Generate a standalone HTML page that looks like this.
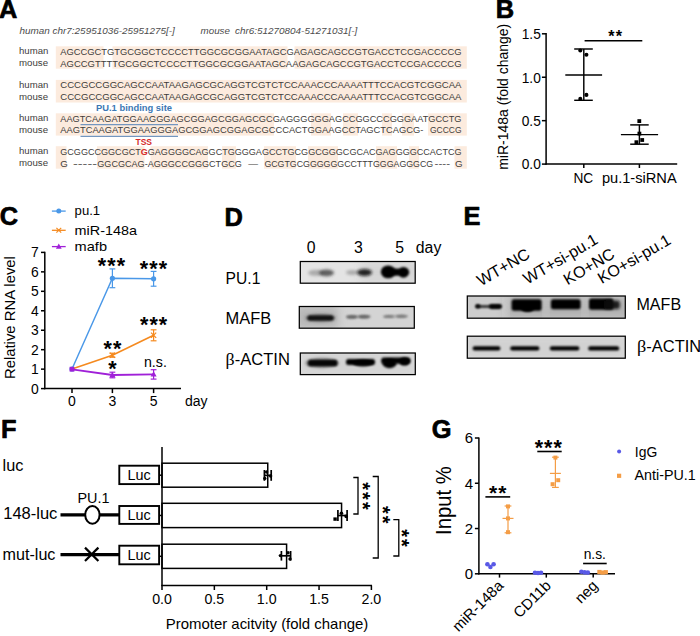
<!DOCTYPE html>
<html><head><meta charset="utf-8"><title>Figure</title>
<style>html,body{margin:0;padding:0;background:#fff;}svg{display:block;font-family:'Liberation Sans', sans-serif;}text{font-family:'Liberation Sans', sans-serif;}</style>
</head><body>
<svg width="700" height="636" viewBox="0 0 700 636">
<rect x="0" y="0" width="700" height="636" fill="#fff"/>
<g id="panelA">
<text x="-0.9" y="17.5" font-size="25.4" font-weight="bold" stroke="#000" stroke-width="0.7" stroke-linejoin="round">A</text>
<text x="19.6" y="33.7" font-size="9.3" fill="#4c4c4c" font-style="italic" textLength="155.2" lengthAdjust="spacingAndGlyphs">human chr7:25951036-25951275[-]</text>
<text x="200.6" y="33.7" font-size="9.3" fill="#4c4c4c" font-style="italic" textLength="29.3" lengthAdjust="spacingAndGlyphs">mouse</text>
<text x="235" y="33.7" font-size="9.3" fill="#4c4c4c" font-style="italic" textLength="122.3" lengthAdjust="spacingAndGlyphs">chr6:51270804-51271031[-]</text>
<rect x="55.8" y="46.300000000000004" width="47.7" height="22.4" fill="#fcebde" stroke="none" stroke-width="1" />
<rect x="112.5" y="46.300000000000004" width="175.0" height="22.4" fill="#fcebde" stroke="none" stroke-width="1" />
<rect x="294.5" y="46.300000000000004" width="172.3" height="22.4" fill="#fcebde" stroke="none" stroke-width="1" />
<rect x="55.8" y="79.89999999999999" width="411.0" height="22.6" fill="#fcebde" stroke="none" stroke-width="1" />
<rect x="55.8" y="113.3" width="218.2" height="22.300000000000004" fill="#fcebde" stroke="none" stroke-width="1" />
<rect x="311" y="113.3" width="20" height="22.300000000000004" fill="#fcebde" stroke="none" stroke-width="1" />
<rect x="343" y="113.3" width="15" height="22.300000000000004" fill="#fcebde" stroke="none" stroke-width="1" />
<rect x="382" y="113.3" width="10" height="22.300000000000004" fill="#fcebde" stroke="none" stroke-width="1" />
<rect x="402" y="113.3" width="12" height="22.300000000000004" fill="#fcebde" stroke="none" stroke-width="1" />
<rect x="428" y="113.3" width="38.80000000000001" height="22.300000000000004" fill="#fcebde" stroke="none" stroke-width="1" />
<rect x="55.8" y="146.2" width="10.700000000000003" height="22.500000000000007" fill="#fcebde" stroke="none" stroke-width="1" />
<rect x="97" y="146.2" width="47.5" height="22.500000000000007" fill="#fcebde" stroke="none" stroke-width="1" />
<rect x="150.5" y="146.2" width="57.5" height="22.500000000000007" fill="#fcebde" stroke="none" stroke-width="1" />
<rect x="222" y="146.2" width="14" height="22.500000000000007" fill="#fcebde" stroke="none" stroke-width="1" />
<rect x="264" y="146.2" width="32" height="22.500000000000007" fill="#fcebde" stroke="none" stroke-width="1" />
<rect x="308" y="146.2" width="30" height="22.500000000000007" fill="#fcebde" stroke="none" stroke-width="1" />
<rect x="376" y="146.2" width="21" height="22.500000000000007" fill="#fcebde" stroke="none" stroke-width="1" />
<rect x="409" y="146.2" width="10" height="22.500000000000007" fill="#fcebde" stroke="none" stroke-width="1" />
<rect x="454.5" y="146.2" width="12.300000000000011" height="22.500000000000007" fill="#fcebde" stroke="none" stroke-width="1" />
<text x="19" y="54.3" font-size="9.6" fill="#403c3a" textLength="29.3" lengthAdjust="spacingAndGlyphs">human</text>
<text x="19" y="66.1" font-size="9.6" fill="#403c3a" textLength="29.0" lengthAdjust="spacingAndGlyphs">mouse</text>
<text x="60.3" y="54.7" font-size="9.7" fill="#403c3a" textLength="401.2" lengthAdjust="spacingAndGlyphs">AGCCGCTGTGCGGCTCCCCTTGGCGCGGAATAGCGAGAGCAGCCGTGACCTCCGACCCCG</text>
<text x="60.3" y="66.5" font-size="9.7" fill="#403c3a" textLength="401.2" lengthAdjust="spacingAndGlyphs">AGCCGTTTTGCGGCTCCCCTTGGCGCGGAATAGCAAGAGCAGCCGTGACCTCCGACCCCG</text>
<text x="19" y="87.9" font-size="9.6" fill="#403c3a" textLength="29.3" lengthAdjust="spacingAndGlyphs">human</text>
<text x="19" y="99.9" font-size="9.6" fill="#403c3a" textLength="29.0" lengthAdjust="spacingAndGlyphs">mouse</text>
<text x="60.3" y="88.3" font-size="9.7" fill="#403c3a" textLength="401.2" lengthAdjust="spacingAndGlyphs">CCCGCCGGCAGCCAATAAGAGCGCAGGTCGTCTCCAAACCCAAAATTTCCACGTCGGCAA</text>
<text x="60.3" y="100.3" font-size="9.7" fill="#403c3a" textLength="401.2" lengthAdjust="spacingAndGlyphs">CCCGCCGGCAGCCAATAAGAGCGCAGGTCGTCTCCAAACCCAAAATTTCCACGTCGGCAA</text>
<text x="19" y="121.3" font-size="9.6" fill="#403c3a" textLength="29.3" lengthAdjust="spacingAndGlyphs">human</text>
<text x="19" y="133.0" font-size="9.6" fill="#403c3a" textLength="29.0" lengthAdjust="spacingAndGlyphs">mouse</text>
<text x="60.3" y="121.7" font-size="9.7" fill="#403c3a" textLength="401.2" lengthAdjust="spacingAndGlyphs">AAGTCAAGATGGAAGGGAGCGGAGCGGAGCGCGAGGGGGGAGCCGGCCCGGGAATGCCTG</text>
<text x="19" y="154.2" font-size="9.6" fill="#403c3a" textLength="29.3" lengthAdjust="spacingAndGlyphs">human</text>
<text x="19" y="166.1" font-size="9.6" fill="#403c3a" textLength="29.0" lengthAdjust="spacingAndGlyphs">mouse</text>
<text x="60.3" y="154.6" font-size="9.7" fill="#403c3a" textLength="401.2" lengthAdjust="spacingAndGlyphs">GCGGCCGGCGCT<tspan fill="#d42a2a" font-weight="bold">G</tspan>GAGGGGCAGGCTGGGGAGCCTGCGGCGGGCGCACGAGGGGCCACTCG</text>
<text x="60.3" y="133.4" font-size="9.7" fill="#403c3a" textLength="363" lengthAdjust="spacingAndGlyphs">AAGTCAAGATGGAAGGGAGCGGAGCGGAGCGCCCACTGGAAGCCTAGCTCAGCG-</text>
<text x="430" y="133.4" font-size="9.7" fill="#403c3a" textLength="31.5" lengthAdjust="spacingAndGlyphs">GCCCG</text>
<text x="60.3" y="166.5" font-size="9.7" fill="#403c3a">G</text>
<text x="73" y="166.5" font-size="9.7" fill="#403c3a" textLength="24" lengthAdjust="spacingAndGlyphs">-----</text>
<text x="97.3" y="166.5" font-size="9.7" fill="#403c3a" textLength="144.5" lengthAdjust="spacingAndGlyphs">GGCGCAG-AGGGCCGGGCTGCG</text>
<text x="248.2" y="166.5" font-size="9.7" fill="#403c3a" textLength="9.8" lengthAdjust="spacingAndGlyphs">—</text>
<text x="264.4" y="166.5" font-size="9.7" fill="#403c3a" textLength="168.8" lengthAdjust="spacingAndGlyphs">GCGTGCGGGGGGCCTTTGGGAGGGCG</text>
<text x="434.6" y="166.5" font-size="9.7" fill="#403c3a" textLength="15.5" lengthAdjust="spacingAndGlyphs">----</text>
<text x="455" y="166.5" font-size="9.7" fill="#403c3a">G</text>
<text x="96" y="111" font-size="9.3" font-weight="bold" fill="#3c78b4" textLength="76" lengthAdjust="spacingAndGlyphs">PU.1 binding site</text>
<line x1="80.5" y1="124.6" x2="178" y2="124.6" stroke="#7396c0" stroke-width="1.2" />
<line x1="80.5" y1="136.3" x2="178" y2="136.3" stroke="#7396c0" stroke-width="1.2" />
<text x="135.5" y="144.5" font-size="9.3" font-weight="bold" fill="#d42a2a" textLength="16.5" lengthAdjust="spacingAndGlyphs">TSS</text>
</g>
<g id="panelB">
<text x="495.7" y="17.5" font-size="25.4" font-weight="bold" stroke="#000" stroke-width="0.7" stroke-linejoin="round">B</text>
<line x1="546.1" y1="33.099999999999994" x2="546.1" y2="164.79999999999998" stroke="#000" stroke-width="1.5" />
<line x1="545.4" y1="164.1" x2="677.2" y2="164.1" stroke="#000" stroke-width="1.5" />
<line x1="541.9" y1="164.1" x2="546.1" y2="164.1" stroke="#000" stroke-width="1.5" />
<text x="540.8" y="169.4" font-size="14.7" text-anchor="end" textLength="19.1" lengthAdjust="spacingAndGlyphs">0.0</text>
<line x1="541.9" y1="120.66666666666666" x2="546.1" y2="120.66666666666666" stroke="#000" stroke-width="1.5" />
<text x="540.8" y="125.96666666666665" font-size="14.7" text-anchor="end" textLength="19.1" lengthAdjust="spacingAndGlyphs">0.5</text>
<line x1="541.9" y1="77.23333333333332" x2="546.1" y2="77.23333333333332" stroke="#000" stroke-width="1.5" />
<text x="540.8" y="82.53333333333332" font-size="14.7" text-anchor="end" textLength="19.1" lengthAdjust="spacingAndGlyphs">1.0</text>
<line x1="541.9" y1="33.79999999999998" x2="546.1" y2="33.79999999999998" stroke="#000" stroke-width="1.5" />
<text x="540.8" y="39.09999999999998" font-size="14.7" text-anchor="end" textLength="19.1" lengthAdjust="spacingAndGlyphs">1.5</text>
<text x="508.2" y="96.8" font-size="14.4" text-anchor="middle" textLength="146" lengthAdjust="spacingAndGlyphs" transform="rotate(-90 508.2 96.8)">miR-148a (fold change)</text>
<line x1="583.8" y1="164.1" x2="583.8" y2="168.0" stroke="#000" stroke-width="1.5" />
<line x1="639.4" y1="164.1" x2="639.4" y2="168.0" stroke="#000" stroke-width="1.5" />
<text x="583.3" y="182.5" font-size="15.0" text-anchor="middle" textLength="19.8" lengthAdjust="spacingAndGlyphs">NC</text>
<text x="639.3" y="182.5" font-size="15.0" text-anchor="middle" textLength="74.8" lengthAdjust="spacingAndGlyphs">pu.1-siRNA</text>
<line x1="583.8" y1="49.0" x2="583.8" y2="100.3" stroke="#000" stroke-width="1.45" />
<line x1="574.2" y1="49.0" x2="592.8" y2="49.0" stroke="#000" stroke-width="1.45" />
<line x1="574.2" y1="100.3" x2="592.8" y2="100.3" stroke="#000" stroke-width="1.45" />
<line x1="565.3" y1="74.9" x2="602.1" y2="74.9" stroke="#000" stroke-width="1.45" />
<circle cx="580.3" cy="50.5" r="2.05" fill="#000" />
<circle cx="586.4" cy="54.8" r="2.05" fill="#000" />
<circle cx="586.4" cy="94.9" r="2.05" fill="#000" />
<circle cx="580.3" cy="98.9" r="2.05" fill="#000" />
<line x1="639.4" y1="124.9" x2="639.4" y2="144.2" stroke="#000" stroke-width="1.45" />
<line x1="630.2" y1="124.9" x2="648.7" y2="124.9" stroke="#000" stroke-width="1.45" />
<line x1="630.2" y1="144.2" x2="648.7" y2="144.2" stroke="#000" stroke-width="1.45" />
<line x1="620.9" y1="134.6" x2="658.1" y2="134.6" stroke="#000" stroke-width="1.45" />
<rect x="637.4" y="119.19999999999999" width="3.8" height="3.8" fill="#000" stroke="none" stroke-width="1" />
<rect x="637.5" y="131.7" width="3.8" height="3.8" fill="#000" stroke="none" stroke-width="1" />
<rect x="640.3000000000001" y="138.1" width="3.8" height="3.8" fill="#000" stroke="none" stroke-width="1" />
<rect x="634.5" y="140.29999999999998" width="3.8" height="3.8" fill="#000" stroke="none" stroke-width="1" />
<line x1="584.6" y1="40.7" x2="642.3" y2="40.7" stroke="#000" stroke-width="1.45" />
<text x="615.85" y="41.76" font-size="16.2" font-weight="bold" text-anchor="middle" letter-spacing="1.3">**</text>
</g>
<g id="panelC">
<text x="-0.2" y="224.5" font-size="25.4" font-weight="bold" stroke="#000" stroke-width="0.7" stroke-linejoin="round">C</text>
<line x1="44.8" y1="251.8" x2="44.8" y2="389.20000000000005" stroke="#000" stroke-width="1.5" />
<line x1="44.199999999999996" y1="388.6" x2="181" y2="388.6" stroke="#000" stroke-width="1.5" />
<line x1="41.0" y1="388.6" x2="44.8" y2="388.6" stroke="#000" stroke-width="1.5" />
<text x="38.7" y="393.55" font-size="13.9" text-anchor="end">0</text>
<line x1="41.0" y1="369.14285714285717" x2="44.8" y2="369.14285714285717" stroke="#000" stroke-width="1.5" />
<text x="38.7" y="374.09285714285716" font-size="13.9" text-anchor="end">1</text>
<line x1="41.0" y1="349.6857142857143" x2="44.8" y2="349.6857142857143" stroke="#000" stroke-width="1.5" />
<text x="38.7" y="354.6357142857143" font-size="13.9" text-anchor="end">2</text>
<line x1="41.0" y1="330.22857142857146" x2="44.8" y2="330.22857142857146" stroke="#000" stroke-width="1.5" />
<text x="38.7" y="335.17857142857144" font-size="13.9" text-anchor="end">3</text>
<line x1="41.0" y1="310.7714285714286" x2="44.8" y2="310.7714285714286" stroke="#000" stroke-width="1.5" />
<text x="38.7" y="315.7214285714286" font-size="13.9" text-anchor="end">4</text>
<line x1="41.0" y1="291.31428571428575" x2="44.8" y2="291.31428571428575" stroke="#000" stroke-width="1.5" />
<text x="38.7" y="296.26428571428573" font-size="13.9" text-anchor="end">5</text>
<line x1="41.0" y1="271.8571428571429" x2="44.8" y2="271.8571428571429" stroke="#000" stroke-width="1.5" />
<text x="38.7" y="276.8071428571429" font-size="13.9" text-anchor="end">6</text>
<line x1="41.0" y1="252.4" x2="44.8" y2="252.4" stroke="#000" stroke-width="1.5" />
<text x="38.7" y="257.35" font-size="13.9" text-anchor="end">7</text>
<text x="14.7" y="317.6" font-size="14.1" text-anchor="middle" textLength="123" lengthAdjust="spacingAndGlyphs" transform="rotate(-90 14.7 317.6)">Relative RNA level</text>
<line x1="72" y1="388.6" x2="72" y2="393.1" stroke="#000" stroke-width="1.5" />
<text x="72" y="406.4" font-size="14.0" text-anchor="middle">0</text>
<line x1="112.4" y1="388.6" x2="112.4" y2="393.1" stroke="#000" stroke-width="1.5" />
<text x="112.4" y="406.4" font-size="14.0" text-anchor="middle">3</text>
<line x1="153.6" y1="388.6" x2="153.6" y2="393.1" stroke="#000" stroke-width="1.5" />
<text x="153.6" y="406.4" font-size="14.0" text-anchor="middle">5</text>
<text x="185" y="406.4" font-size="14.0">day</text>
<polyline points="72,369.0 112.4,278.3 153.6,278.8" fill="none" stroke="#4a98e8" stroke-width="1.45"/>
<line x1="112.4" y1="268.90000000000003" x2="112.4" y2="287.7" stroke="#4a98e8" stroke-width="1.2" />
<line x1="109.5" y1="268.90000000000003" x2="115.30000000000001" y2="268.90000000000003" stroke="#4a98e8" stroke-width="1.2" />
<line x1="109.5" y1="287.7" x2="115.30000000000001" y2="287.7" stroke="#4a98e8" stroke-width="1.2" />
<line x1="153.6" y1="271.40000000000003" x2="153.6" y2="286.2" stroke="#4a98e8" stroke-width="1.2" />
<line x1="150.7" y1="271.40000000000003" x2="156.5" y2="271.40000000000003" stroke="#4a98e8" stroke-width="1.2" />
<line x1="150.7" y1="286.2" x2="156.5" y2="286.2" stroke="#4a98e8" stroke-width="1.2" />
<circle cx="72" cy="369.0" r="2.6" fill="#4a98e8" />
<circle cx="112.4" cy="278.3" r="2.6" fill="#4a98e8" />
<circle cx="153.6" cy="278.8" r="2.6" fill="#4a98e8" />
<polyline points="72,369.0 112.4,355.2 153.6,335.3" fill="none" stroke="#f58a1f" stroke-width="1.6"/>
<line x1="112.4" y1="353.2" x2="112.4" y2="357.2" stroke="#f58a1f" stroke-width="1.2" />
<line x1="109.5" y1="353.2" x2="115.30000000000001" y2="353.2" stroke="#f58a1f" stroke-width="1.2" />
<line x1="109.5" y1="357.2" x2="115.30000000000001" y2="357.2" stroke="#f58a1f" stroke-width="1.2" />
<line x1="153.6" y1="329.8" x2="153.6" y2="340.8" stroke="#f58a1f" stroke-width="1.2" />
<line x1="150.7" y1="329.8" x2="156.5" y2="329.8" stroke="#f58a1f" stroke-width="1.2" />
<line x1="150.7" y1="340.8" x2="156.5" y2="340.8" stroke="#f58a1f" stroke-width="1.2" />
<line x1="109.80000000000001" y1="352.59999999999997" x2="115.0" y2="357.8" stroke="#f58a1f" stroke-width="1.2" />
<line x1="109.80000000000001" y1="357.8" x2="115.0" y2="352.59999999999997" stroke="#f58a1f" stroke-width="1.2" />
<line x1="151.0" y1="332.7" x2="156.2" y2="337.90000000000003" stroke="#f58a1f" stroke-width="1.2" />
<line x1="151.0" y1="337.90000000000003" x2="156.2" y2="332.7" stroke="#f58a1f" stroke-width="1.2" />
<polyline points="72,369.4 112.4,375.0 153.6,374.4" fill="none" stroke="#a020d8" stroke-width="1.9"/>
<line x1="112.4" y1="372.2" x2="112.4" y2="377.8" stroke="#a020d8" stroke-width="1.2" />
<line x1="109.5" y1="372.2" x2="115.30000000000001" y2="372.2" stroke="#a020d8" stroke-width="1.2" />
<line x1="109.5" y1="377.8" x2="115.30000000000001" y2="377.8" stroke="#a020d8" stroke-width="1.2" />
<line x1="153.6" y1="369.7" x2="153.6" y2="379.09999999999997" stroke="#a020d8" stroke-width="1.2" />
<line x1="150.7" y1="369.7" x2="156.5" y2="369.7" stroke="#a020d8" stroke-width="1.2" />
<line x1="150.7" y1="379.09999999999997" x2="156.5" y2="379.09999999999997" stroke="#a020d8" stroke-width="1.2" />
<rect x="69.6" y="366.79999999999995" width="4.8" height="4.8" fill="#a020d8" stroke="none" stroke-width="1" />
<path d="M112.4 371.8L115.4 377.2L109.4 377.2Z" fill="#a020d8"/>
<path d="M153.6 371.2L156.6 376.59999999999997L150.6 376.59999999999997Z" fill="#a020d8"/>
<line x1="51.9" y1="211.1" x2="65.7" y2="211.1" stroke="#4a98e8" stroke-width="1.3" />
<circle cx="58.8" cy="211.1" r="2.5" fill="#4a98e8" />
<text x="74.6" y="215.2" font-size="13.4" textLength="25.5" lengthAdjust="spacingAndGlyphs">pu.1</text>
<line x1="51.9" y1="230.3" x2="65.7" y2="230.3" stroke="#f58a1f" stroke-width="1.3" />
<line x1="56.4" y1="227.9" x2="61.2" y2="232.7" stroke="#f58a1f" stroke-width="1.2" />
<line x1="56.4" y1="232.7" x2="61.2" y2="227.9" stroke="#f58a1f" stroke-width="1.2" />
<text x="74.6" y="235.0" font-size="13.4" textLength="62.4" lengthAdjust="spacingAndGlyphs">miR-148a</text>
<line x1="51.9" y1="246.6" x2="65.7" y2="246.6" stroke="#a020d8" stroke-width="1.3" />
<path d="M58.8 243.6L61.7 248.8L55.9 248.8Z" fill="#a020d8"/>
<text x="74.6" y="251.4" font-size="13.4" textLength="32.4" lengthAdjust="spacingAndGlyphs">mafb</text>
<text x="112.05" y="273.46" font-size="21.5" font-weight="bold" text-anchor="middle" letter-spacing="1.1">***</text>
<text x="154.05" y="275.56" font-size="21.5" font-weight="bold" text-anchor="middle" letter-spacing="1.1">***</text>
<text x="154.15" y="331.56" font-size="21.5" font-weight="bold" text-anchor="middle" letter-spacing="1.1">***</text>
<text x="112.95" y="355.96" font-size="21.5" font-weight="bold" text-anchor="middle" letter-spacing="1.1">**</text>
<text x="112.95" y="375.76" font-size="21.5" font-weight="bold" text-anchor="middle" letter-spacing="1.1">*</text>
<text x="155.4" y="367.0" font-size="14.2" text-anchor="middle">n.s.</text>
</g>
<g id="panelD">
<defs>
<filter id="blur1" x="-50%" y="-100%" width="200%" height="300%"><feGaussianBlur stdDeviation="0.7"/></filter>
<filter id="blur2" x="-50%" y="-100%" width="200%" height="300%"><feGaussianBlur stdDeviation="1.1"/></filter>
<filter id="blur3" x="-50%" y="-100%" width="200%" height="300%"><feGaussianBlur stdDeviation="1.8"/></filter>
<filter id="blur4" x="-50%" y="-100%" width="200%" height="300%"><feGaussianBlur stdDeviation="4.0"/></filter>
</defs>
<text x="224.6" y="225.7" font-size="25.4" font-weight="bold" stroke="#000" stroke-width="0.7" stroke-linejoin="round">D</text>
<text x="311.2" y="253.0" font-size="15.8" text-anchor="middle">0</text>
<text x="358.4" y="253.0" font-size="15.8" text-anchor="middle">3</text>
<text x="399.7" y="253.0" font-size="15.8" text-anchor="middle">5</text>
<text x="415.8" y="253.0" font-size="15.8" textLength="25.5" lengthAdjust="spacingAndGlyphs">day</text>
<text x="225.6" y="283.6" font-size="16.2" textLength="34.8" lengthAdjust="spacingAndGlyphs">PU.1</text>
<text x="225.6" y="324.4" font-size="16.2" textLength="45.6" lengthAdjust="spacingAndGlyphs">MAFB</text>
<text x="225.6" y="365.3" font-size="16.2" textLength="64.3" lengthAdjust="spacingAndGlyphs"><tspan font-family="Liberation Serif" font-size="17.5">β</tspan>-ACTIN</text>
<clipPath id="bc1"><rect x="300.3" y="261.5" width="114.9" height="21.7"/></clipPath>
<g clip-path="url(#bc1)">
<rect x="300.3" y="261.5" width="114.9" height="21.7" fill="#e4e4e4" stroke="none" stroke-width="1" />
<rect x="360" y="261.5" width="60" height="21.7" fill="#bbb" opacity="0.35" filter="url(#blur4)"/>
<ellipse cx="316" cy="272.8" rx="8" ry="3.0" fill="#666" opacity="0.45" filter="url(#blur3)"/>
<ellipse cx="326.5" cy="272.8" rx="7.5" ry="3.4" fill="#333" opacity="0.75" filter="url(#blur3)"/>
<ellipse cx="352" cy="272.5" rx="6" ry="2.6" fill="#666" opacity="0.45" filter="url(#blur3)"/>
<ellipse cx="364.5" cy="272.5" rx="7.5" ry="3.4" fill="#111" opacity="0.9" filter="url(#blur3)"/>
<ellipse cx="388.2" cy="271.9" rx="7.4" ry="6.4" fill="#000" opacity="1" filter="url(#blur2)"/>
<ellipse cx="403.4" cy="272.3" rx="5.8" ry="5.4" fill="#000" opacity="1" filter="url(#blur2)"/>
<ellipse cx="396.0" cy="272.2" rx="6.0" ry="3.6" fill="#000" opacity="1" filter="url(#blur2)"/>
</g>
<rect x="300.3" y="261.5" width="114.9" height="21.7" fill="none" stroke="#000" stroke-width="1.25" />
<clipPath id="bc2"><rect x="299.3" y="306.5" width="115" height="21.7"/></clipPath>
<g clip-path="url(#bc2)">
<rect x="299.3" y="306.5" width="115" height="21.7" fill="#d4d4d4" stroke="none" stroke-width="1" />
<rect x="296" y="306.5" width="42" height="21.7" fill="#999" opacity="0.5" filter="url(#blur4)"/>
<rect x="307.5" y="315.40" width="26.10" height="5.0" rx="2.5" fill="#000" opacity="1" filter="url(#blur2)"/>
<ellipse cx="320.5" cy="317.9" rx="15.0" ry="3.6" fill="#222" opacity="0.5" filter="url(#blur3)"/>
<ellipse cx="351.5" cy="316.9" rx="5.5" ry="1.8" fill="#444" opacity="0.7" filter="url(#blur2)"/>
<ellipse cx="364.5" cy="316.7" rx="6.0" ry="1.9" fill="#444" opacity="0.7" filter="url(#blur2)"/>
<ellipse cx="358" cy="316.8" rx="11" ry="1.3" fill="#555" opacity="0.5" filter="url(#blur2)"/>
<ellipse cx="388.5" cy="316.5" rx="5.5" ry="1.6" fill="#555" opacity="0.6" filter="url(#blur2)"/>
<ellipse cx="402" cy="316.2" rx="6" ry="1.7" fill="#555" opacity="0.6" filter="url(#blur2)"/>
<ellipse cx="395" cy="316.4" rx="11" ry="1.2" fill="#666" opacity="0.45" filter="url(#blur2)"/>
</g>
<rect x="299.3" y="306.5" width="115" height="21.7" fill="none" stroke="#000" stroke-width="1.25" />
<clipPath id="bc3"><rect x="300.3" y="353.0" width="115.0" height="21.6"/></clipPath>
<g clip-path="url(#bc3)">
<rect x="300.3" y="353.0" width="115.0" height="21.6" fill="#dedede" stroke="none" stroke-width="1" />
<rect x="300" y="353.0" width="115" height="21.6" fill="#aaa" opacity="0.2" filter="url(#blur4)"/>
<rect x="308.0" y="359.70" width="29.40" height="6.6" rx="2.5" fill="#000" opacity="1" filter="url(#blur2)"/>
<ellipse cx="322" cy="363.0" rx="16.5" ry="4.4" fill="#111" opacity="0.5" filter="url(#blur3)"/>
<rect x="346.0" y="359.10" width="29.00" height="5.8" rx="2.5" fill="#000" opacity="1" filter="url(#blur2)"/>
<ellipse cx="363" cy="363.2" rx="10" ry="3.4" fill="#000" opacity="0.9" filter="url(#blur2)"/>
<rect x="381.2" y="357.40" width="29.20" height="6.4" rx="2.5" fill="#000" opacity="1" filter="url(#blur2)"/>
<ellipse cx="389.5" cy="363.6" rx="7.0" ry="4.6" fill="#000" opacity="1" filter="url(#blur2)"/>
<ellipse cx="404.5" cy="361.6" rx="5.2" ry="4.0" fill="#000" opacity="1" filter="url(#blur2)"/>
</g>
<rect x="300.3" y="353.0" width="115.0" height="21.6" fill="none" stroke="#000" stroke-width="1.25" />
</g>
<g id="panelE">
<text x="463.6" y="224.8" font-size="25.4" font-weight="bold" stroke="#000" stroke-width="0.7" stroke-linejoin="round">E</text>
<text x="480.9" y="286.5" font-size="16.2" transform="rotate(-30.3 480.9 286.5)">WT+NC</text>
<text x="527.3" y="284.8" font-size="16.2" transform="rotate(-30.3 527.3 284.8)">WT+si-pu.1</text>
<text x="567.4" y="285.4" font-size="16.2" transform="rotate(-30.3 567.4 285.4)">KO+NC</text>
<text x="601.8" y="284.2" font-size="16.2" transform="rotate(-30.3 601.8 284.2)">KO+si-pu.1</text>
<text x="636.5" y="310.0" font-size="15.8" textLength="44.6" lengthAdjust="spacingAndGlyphs">MAFB</text>
<text x="637" y="352.3" font-size="15.8" textLength="64.2" lengthAdjust="spacingAndGlyphs"><tspan font-family="Liberation Serif" font-size="17.5">β</tspan>-ACTIN</text>
<clipPath id="bc4"><rect x="467.3" y="296.0" width="158" height="22.2"/></clipPath>
<g clip-path="url(#bc4)">
<rect x="467.3" y="296.0" width="158" height="22.2" fill="#cdcdcd" stroke="none" stroke-width="1" />
<rect x="505" y="296.0" width="125" height="22.2" fill="#888" opacity="0.4" filter="url(#blur4)"/>
<rect x="504.5" y="296.0" width="3.5" height="22.2" fill="#eee" opacity="0.7" filter="url(#blur4)"/>
<rect x="544.2" y="296.0" width="3.5" height="22.2" fill="#eee" opacity="0.6" filter="url(#blur4)"/>
<rect x="583.0" y="296.0" width="3.5" height="22.2" fill="#eee" opacity="0.5" filter="url(#blur4)"/>
<rect x="475.8" y="305.20" width="25.70" height="2.6" rx="1.3" fill="#000" opacity="0.85" filter="url(#blur2)"/>
<ellipse cx="477.8" cy="306.2" rx="2.6" ry="2.2" fill="#000" opacity="0.9" filter="url(#blur2)"/>
<rect x="489.0" y="304.10" width="12.80" height="4.8" rx="2.4" fill="#000" opacity="0.95" filter="url(#blur2)"/>
<rect x="511.6" y="299.20" width="30.00" height="11.6" rx="2.5" fill="#000" opacity="1" filter="url(#blur2)"/>
<ellipse cx="527.5" cy="308.6" rx="6.5" ry="3.4" fill="#000" opacity="1" filter="url(#blur2)"/>
<rect x="550.9" y="299.20" width="29.70" height="10.0" rx="2.5" fill="#000" opacity="1" filter="url(#blur2)"/>
<rect x="589.0" y="298.60" width="24.40" height="11.2" rx="2.5" fill="#000" opacity="1" filter="url(#blur2)"/>
<rect x="604.0" y="300.50" width="15.80" height="8.6" rx="2.5" fill="#111" opacity="0.9" filter="url(#blur3)"/>
</g>
<rect x="467.3" y="296.0" width="158" height="22.2" fill="none" stroke="#000" stroke-width="1.25" />
<clipPath id="bc5"><rect x="467.3" y="336.2" width="158" height="22.0"/></clipPath>
<g clip-path="url(#bc5)">
<rect x="467.3" y="336.2" width="158" height="22.0" fill="#dadada" stroke="none" stroke-width="1" />
<rect x="467" y="336.2" width="158" height="22.0" fill="#aaa" opacity="0.15" filter="url(#blur4)"/>
<rect x="472.6" y="346.30" width="27.80" height="4.2" rx="2.1" fill="#000" opacity="1" filter="url(#blur2)"/>
<rect x="510.2" y="346.30" width="29.20" height="4.2" rx="2.1" fill="#000" opacity="1" filter="url(#blur2)"/>
<rect x="549.8" y="346.25" width="29.60" height="4.3" rx="2.15" fill="#000" opacity="1" filter="url(#blur2)"/>
<rect x="588.2" y="346.20" width="31.00" height="4.4" rx="2.2" fill="#000" opacity="1" filter="url(#blur2)"/>
</g>
<rect x="467.3" y="336.2" width="158" height="22.0" fill="none" stroke="#000" stroke-width="1.25" />
</g>
<g id="panelF">
<text x="0.9" y="437.6" font-size="25.4" font-weight="bold" stroke="#000" stroke-width="0.7" stroke-linejoin="round">F</text>
<rect x="162.0" y="463.2" width="105.74699999999999" height="24.0" fill="#fff" stroke="#000" stroke-width="1.5" />
<rect x="162.0" y="503.3" width="179.5605" height="24.30000000000001" fill="#fff" stroke="#000" stroke-width="1.5" />
<rect x="162.0" y="544.2" width="124.59299999999998" height="24.199999999999932" fill="#fff" stroke="#000" stroke-width="1.5" />
<line x1="162.0" y1="447.0" x2="162.0" y2="586.1" stroke="#000" stroke-width="1.5" />
<line x1="161.4" y1="585.5" x2="372.0" y2="585.5" stroke="#000" stroke-width="1.5" />
<line x1="162.0" y1="585.5" x2="162.0" y2="590.0" stroke="#000" stroke-width="1.5" />
<text x="162.0" y="603.8" font-size="14.2" text-anchor="middle">0.0</text>
<line x1="214.35" y1="585.5" x2="214.35" y2="590.0" stroke="#000" stroke-width="1.5" />
<text x="214.35" y="603.8" font-size="14.2" text-anchor="middle">0.5</text>
<line x1="266.7" y1="585.5" x2="266.7" y2="590.0" stroke="#000" stroke-width="1.5" />
<text x="266.7" y="603.8" font-size="14.2" text-anchor="middle">1.0</text>
<line x1="319.04999999999995" y1="585.5" x2="319.04999999999995" y2="590.0" stroke="#000" stroke-width="1.5" />
<text x="319.04999999999995" y="603.8" font-size="14.2" text-anchor="middle">1.5</text>
<line x1="371.4" y1="585.5" x2="371.4" y2="590.0" stroke="#000" stroke-width="1.5" />
<text x="371.4" y="603.8" font-size="14.2" text-anchor="middle">2.0</text>
<line x1="158.0" y1="475.2" x2="162.0" y2="475.2" stroke="#000" stroke-width="1.5" />
<line x1="158.0" y1="515.45" x2="162.0" y2="515.45" stroke="#000" stroke-width="1.5" />
<line x1="158.0" y1="556.3" x2="162.0" y2="556.3" stroke="#000" stroke-width="1.5" />
<text x="165.8" y="629.2" font-size="14.2" textLength="202.5" lengthAdjust="spacingAndGlyphs">Promoter acitvity (fold change)</text>
<line x1="264.40000000000003" y1="475.4" x2="271.2" y2="475.4" stroke="#000" stroke-width="1.7" />
<line x1="264.40000000000003" y1="470.0" x2="264.40000000000003" y2="480.79999999999995" stroke="#000" stroke-width="1.7" />
<line x1="271.2" y1="470.0" x2="271.2" y2="480.79999999999995" stroke="#000" stroke-width="1.7" />
<circle cx="264.8" cy="478.4" r="1.7" fill="#000" />
<circle cx="266.6" cy="472.0" r="1.7" fill="#000" />
<circle cx="270.6" cy="476.0" r="1.7" fill="#000" />
<line x1="337.9" y1="515.5" x2="347.1" y2="515.5" stroke="#000" stroke-width="1.7" />
<line x1="337.9" y1="509.9" x2="337.9" y2="521.1" stroke="#000" stroke-width="1.7" />
<line x1="347.1" y1="509.9" x2="347.1" y2="521.1" stroke="#000" stroke-width="1.7" />
<rect x="333.4" y="517.4" width="3.4" height="3.4" fill="#000" stroke="none" stroke-width="1" />
<circle cx="341.4" cy="513.2" r="1.8" fill="#000" />
<circle cx="346.2" cy="516.4" r="1.8" fill="#000" />
<line x1="281.4" y1="555.8" x2="290.6" y2="555.8" stroke="#000" stroke-width="1.7" />
<line x1="281.4" y1="551.0" x2="281.4" y2="560.5999999999999" stroke="#000" stroke-width="1.7" />
<line x1="290.6" y1="551.0" x2="290.6" y2="560.5999999999999" stroke="#000" stroke-width="1.7" />
<circle cx="280.4" cy="555.6" r="1.7" fill="#000" />
<circle cx="288.0" cy="552.8" r="1.7" fill="#000" />
<circle cx="290.0" cy="559.0" r="1.7" fill="#000" />
<text x="2.6" y="471.2" font-size="15.6" textLength="20.8" lengthAdjust="spacingAndGlyphs">luc</text>
<text x="3.2" y="518.6" font-size="15.6" textLength="54.2" lengthAdjust="spacingAndGlyphs">148-luc</text>
<text x="2.6" y="560.0" font-size="15.6" textLength="52.8" lengthAdjust="spacingAndGlyphs">mut-luc</text>
<rect x="119.3" y="465.7" width="39.8" height="18.400000000000034" fill="#fff" stroke="#000" stroke-width="1.9" />
<text x="139.0" y="480.0" font-size="14.4" text-anchor="middle">Luc</text>
<rect x="119.3" y="506.0" width="39.8" height="17.899999999999977" fill="#fff" stroke="#000" stroke-width="1.9" />
<text x="139.0" y="520.0500000000001" font-size="14.4" text-anchor="middle">Luc</text>
<rect x="119.3" y="545.7" width="39.8" height="18.59999999999991" fill="#fff" stroke="#000" stroke-width="1.9" />
<text x="139.0" y="560.1" font-size="14.4" text-anchor="middle">Luc</text>
<line x1="60.5" y1="514.8" x2="119.3" y2="514.8" stroke="#000" stroke-width="3.3" />
<ellipse cx="92.4" cy="514.8" rx="7.2" ry="8.9" fill="#fff" stroke="#000" stroke-width="2.0"/>
<text x="93.4" y="502.6" font-size="14.4" text-anchor="middle">PU.1</text>
<line x1="60.5" y1="554.6" x2="119.3" y2="554.6" stroke="#000" stroke-width="3.3" />
<line x1="85.0" y1="547.6" x2="98.4" y2="561.0" stroke="#000" stroke-width="2.2" />
<line x1="85.0" y1="561.0" x2="98.4" y2="547.6" stroke="#000" stroke-width="2.2" />
<path d="M353.3 477.5L358.0 477.5L358.0 514.0L353.3 514.0" fill="none" stroke="#000" stroke-width="1.3"/>
<path d="M372.7 476.5L378.2 476.5L378.2 558.0L372.7 558.0" fill="none" stroke="#000" stroke-width="1.3"/>
<path d="M393.3 519.7L398.8 519.7L398.8 556.0L393.3 556.0" fill="none" stroke="#000" stroke-width="1.3"/>
<text font-size="20" font-weight="bold" letter-spacing="2.0" transform="translate(355.80 482.33) rotate(90)">***</text>
<text font-size="20" font-weight="bold" letter-spacing="2.0" transform="translate(375.80 506.02) rotate(90)">**</text>
<text font-size="20" font-weight="bold" letter-spacing="2.0" transform="translate(395.20 529.22) rotate(90)">**</text>
</g>
<g id="panelG">
<text x="431.8" y="438.3" font-size="25.4" font-weight="bold" stroke="#000" stroke-width="0.7" stroke-linejoin="round">G</text>
<line x1="478.9" y1="437.4" x2="478.9" y2="574.4" stroke="#000" stroke-width="1.5" />
<line x1="478.29999999999995" y1="573.8" x2="615" y2="573.8" stroke="#000" stroke-width="1.5" />
<line x1="474.9" y1="573.8" x2="478.9" y2="573.8" stroke="#000" stroke-width="1.5" />
<text x="473.2" y="579.0999999999999" font-size="15" text-anchor="end">0</text>
<line x1="474.9" y1="528.5333333333333" x2="478.9" y2="528.5333333333333" stroke="#000" stroke-width="1.5" />
<text x="473.2" y="533.8333333333333" font-size="15" text-anchor="end">2</text>
<line x1="474.9" y1="483.26666666666665" x2="478.9" y2="483.26666666666665" stroke="#000" stroke-width="1.5" />
<text x="473.2" y="488.56666666666666" font-size="15" text-anchor="end">4</text>
<line x1="474.9" y1="438.0" x2="478.9" y2="438.0" stroke="#000" stroke-width="1.5" />
<text x="473.2" y="443.3" font-size="15" text-anchor="end">6</text>
<text x="451.0" y="500.6" font-size="21.2" text-anchor="middle" textLength="68.6" lengthAdjust="spacingAndGlyphs" transform="rotate(-90 451.0 500.6)">Input %</text>
<line x1="499.5" y1="573.8" x2="499.5" y2="577.5999999999999" stroke="#000" stroke-width="1.5" />
<line x1="546.3" y1="573.8" x2="546.3" y2="577.5999999999999" stroke="#000" stroke-width="1.5" />
<line x1="593.2" y1="573.8" x2="593.2" y2="577.5999999999999" stroke="#000" stroke-width="1.5" />
<text x="504.4" y="586.6" font-size="15" text-anchor="end" transform="rotate(-45 504.4 586.6)">miR-148a</text>
<text x="551.8" y="586.6" font-size="15" text-anchor="end" transform="rotate(-45 551.8 586.6)">CD11b</text>
<text x="598.7" y="586.6" font-size="15" text-anchor="end" transform="rotate(-45 598.7 586.6)">neg</text>
<circle cx="487.4" cy="564.2" r="2.3" fill="#5959e6" />
<circle cx="490.4" cy="567.0" r="2.3" fill="#5959e6" />
<circle cx="493.6" cy="564.2" r="2.3" fill="#5959e6" />
<circle cx="535.0" cy="572.8" r="2.3" fill="#5959e6" />
<circle cx="538.0" cy="573.0" r="2.3" fill="#5959e6" />
<circle cx="541.0" cy="572.8" r="2.3" fill="#5959e6" />
<circle cx="581.4" cy="571.8" r="2.3" fill="#5959e6" />
<circle cx="584.6" cy="572.4" r="2.3" fill="#5959e6" />
<circle cx="587.8" cy="572.6" r="2.3" fill="#5959e6" />
<line x1="508.0" y1="506.0" x2="508.0" y2="532.8" stroke="#f49d46" stroke-width="1.2" />
<line x1="504.6" y1="506.0" x2="511.4" y2="506.0" stroke="#f49d46" stroke-width="1.2" />
<line x1="504.6" y1="532.8" x2="511.4" y2="532.8" stroke="#f49d46" stroke-width="1.2" />
<line x1="502.5" y1="518.4" x2="513.5" y2="518.4" stroke="#f49d46" stroke-width="1.2" />
<rect x="506.0" y="504.4" width="4" height="4" fill="#f49d46" stroke="none" stroke-width="1" />
<rect x="506.0" y="516.4" width="4" height="4" fill="#f49d46" stroke="none" stroke-width="1" />
<rect x="506.0" y="530.2" width="4" height="4" fill="#f49d46" stroke="none" stroke-width="1" />
<line x1="555.4" y1="457.2" x2="555.4" y2="487.4" stroke="#f49d46" stroke-width="1.2" />
<line x1="552.0" y1="457.2" x2="558.8" y2="457.2" stroke="#f49d46" stroke-width="1.2" />
<line x1="552.0" y1="487.4" x2="558.8" y2="487.4" stroke="#f49d46" stroke-width="1.2" />
<line x1="549.9" y1="473.4" x2="560.9" y2="473.4" stroke="#f49d46" stroke-width="1.2" />
<rect x="553.4" y="455.6" width="4" height="4" fill="#f49d46" stroke="none" stroke-width="1" />
<rect x="550.6" y="482.2" width="4" height="4" fill="#f49d46" stroke="none" stroke-width="1" />
<rect x="556.2" y="478.2" width="4" height="4" fill="#f49d46" stroke="none" stroke-width="1" />
<rect x="597.3" y="569.9" width="4.2" height="4.2" fill="#f49d46" stroke="none" stroke-width="1" />
<rect x="600.5" y="570.5" width="4.2" height="4.2" fill="#f49d46" stroke="none" stroke-width="1" />
<rect x="603.6999999999999" y="570.1" width="4.2" height="4.2" fill="#f49d46" stroke="none" stroke-width="1" />
<line x1="485.4" y1="496.9" x2="510.2" y2="496.9" stroke="#000" stroke-width="1.6" />
<text x="498.25" y="499.91" font-size="21" font-weight="bold" text-anchor="middle" letter-spacing="1.1">**</text>
<line x1="537.3" y1="451.5" x2="561.7" y2="451.5" stroke="#000" stroke-width="1.6" />
<text x="548.85" y="454.56" font-size="21.5" font-weight="bold" text-anchor="middle" letter-spacing="1.1">***</text>
<line x1="583.1" y1="563.5" x2="606.7" y2="563.5" stroke="#000" stroke-width="1.6" />
<text x="594.8" y="559.2" font-size="13.8" text-anchor="middle">n.s.</text>
<circle cx="619.1" cy="451.5" r="2.0" fill="#5959e6" />
<text x="634.8" y="456.5" font-size="14.4" textLength="22.4" lengthAdjust="spacingAndGlyphs">IgG</text>
<rect x="617.0" y="473.7" width="4.2" height="4.2" fill="#f49d46" stroke="none" stroke-width="1" />
<text x="634.5" y="480.4" font-size="14.4" textLength="61.2" lengthAdjust="spacingAndGlyphs">Anti-PU.1</text>
</g>
</svg></body></html>
